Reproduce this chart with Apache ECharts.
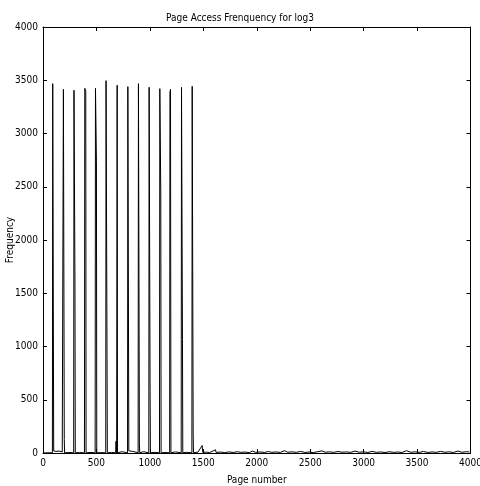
<!DOCTYPE html>
<html><head><meta charset="utf-8">
<script src="https://cdn.jsdelivr.net/npm/echarts@6/dist/echarts.min.js"></script>
<style>html,body{margin:0;padding:0;background:#fff}#c{width:480px;height:486px}</style>
</head><body><div id="c"></div>
<script>
// Page numbers and access frequencies
const pages = [0, 40, 88, 91, 100, 103, 120, 150, 180, 188, 191, 199, 202, 240, 287, 290, 299, 302, 340, 388, 391, 400, 403, 440, 488, 491, 500, 503, 540, 587, 590, 599, 602, 640, 680, 683, 689, 694, 697, 740, 791, 794, 803, 806, 840, 890, 893, 902, 905, 940, 990, 993, 1002, 1005, 1040, 1090, 1093, 1102, 1105, 1140, 1185, 1188, 1193, 1197, 1240, 1293, 1296, 1305, 1308, 1340, 1393, 1396, 1405, 1408,
  1420, 1450, 1489, 1495, 1530, 1560, 1614, 1620, 1660, 1700, 1740, 1780, 1820, 1850, 1890, 1930, 1960, 1990, 2030, 2070, 2110, 2140, 2180, 2220, 2260, 2290, 2330, 2370, 2410, 2450, 2490, 2530, 2570, 2610, 2640, 2680, 2720, 2760, 2800, 2840, 2880, 2920, 2960, 3000, 3040, 3080, 3120, 3160, 3200, 3240, 3280, 3320, 3360, 3400, 3440, 3480, 3520, 3560, 3600, 3640, 3680, 3720, 3760, 3800, 3840, 3880, 3920, 3960, 3990];
const freq = [0, 2, 2, 3468, 20, 2, 15, 18, 10, 2, 3415, 128, 2, 5, 2, 3406, 1604, 2, 4, 2, 3424, 3400, 2, 5, 2, 3424, 2735, 2, 4, 2, 3496, 931, 2, 5, 2, 110, 2, 3453, 2, 12, 2, 3440, 20, 2, 15, 2, 3468, 85, 2, 12, 2, 3434, 578, 2, 6, 2, 3421, 2450, 2, 5, 2, 3390, 3415, 2, 10, 2, 3434, 1065, 2, 6, 2, 3443, 188, 2,
  3, 8, 70, 6, 8, 4, 30, 5, 9, 4, 10, 5, 12, 6, 9, 4, 18, 6, 10, 5, 14, 6, 10, 5, 22, 7, 11, 6, 15, 5, 9, 4, 12, 20, 7, 11, 6, 14, 7, 10, 6, 18, 7, 11, 5, 15, 6, 10, 4, 12, 6, 9, 5, 22, 7, 11, 6, 14, 5, 10, 6, 15, 7, 11, 5, 18, 7, 12, 10];
const xTicks = [0, 500, 1000, 1500, 2000, 2500, 3000, 3500, 4000];
const yTicks = [0, 500, 1000, 1500, 2000, 2500, 3000, 3500, 4000];

const FONT = "'DejaVu Sans Condensed', 'Liberation Sans Narrow', 'Liberation Sans', Arial, sans-serif";
const data = pages.map((p, i) => [p, freq[i]]);
const chart = echarts.init(document.getElementById('c'), null, {renderer: 'canvas'});
const axisCommon = (isX, show) => ({
  type: 'value',
  min: (isX ? xTicks : yTicks)[0],
  max: (isX ? xTicks : yTicks)[(isX ? xTicks : yTicks).length - 1],
  interval: 500,
  axisLine: {show: true, onZero: false, lineStyle: {color: '#000', width: 1}},
  axisTick: {show: true, inside: true, length: 4, lineStyle: {color: '#000'}},
  splitLine: {show: false},
  axisLabel: {show: show, color: '#000', fontFamily: FONT, fontSize: 10, margin: 5,
    formatter: v => String(v)}
});
chart.setOption({
  animation: false,
  backgroundColor: '#fff',
  title: {
    text: 'Page Access Frenquency for log3', left: 'center', top: 8,
    textStyle: {fontFamily: FONT, fontSize: 10, fontWeight: 'normal', color: '#000'}
  },
  grid: {left: 43, right: 9.5, top: 27, bottom: 33, containLabel: false, outerBoundsMode: 'none'},
  xAxis: [
    Object.assign(axisCommon(true, true), {position: 'bottom', name: 'Page number', nameLocation: 'middle', nameGap: 22,
      nameMoveOverlap: false,
      nameTextStyle: {fontFamily: FONT, fontSize: 10, color: '#000'}}),
    Object.assign(axisCommon(true, false), {position: 'top'})
  ],
  yAxis: [
    Object.assign(axisCommon(false, true), {position: 'left', name: 'Frequency', nameLocation: 'middle', nameGap: 28,
      nameMoveOverlap: false,
      nameTextStyle: {fontFamily: FONT, fontSize: 10, color: '#000'}}),
    Object.assign(axisCommon(false, false), {position: 'right'})
  ],
  series: [{
    type: 'line', data: data, xAxisIndex: 0, yAxisIndex: 0,
    showSymbol: false, symbol: 'none',
    lineStyle: {color: '#000', width: 1}
  }]
});
</script></body></html>
